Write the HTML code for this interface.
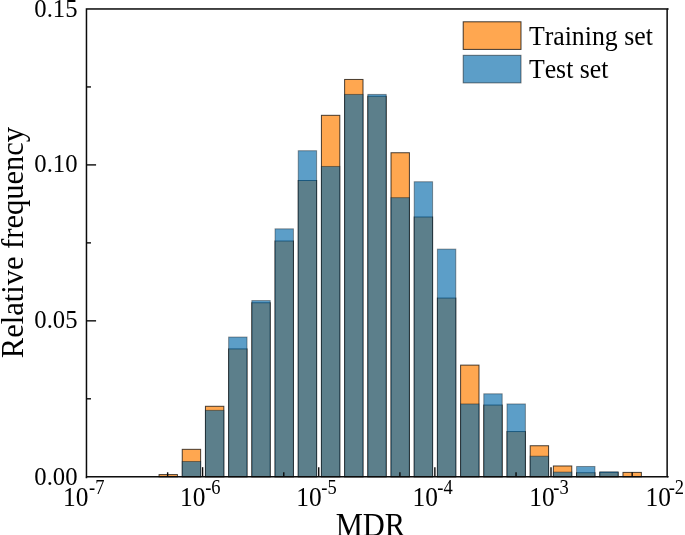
<!DOCTYPE html>
<html lang="en"><head><meta charset="utf-8"><title>MDR relative frequency histogram</title>
<style>html,body{margin:0;padding:0;background:#fff;}body{width:685px;height:535px;overflow:hidden;}svg{display:block;}text{font-kerning:none;font-family:"Liberation Serif","Times New Roman",Times,serif;fill:#000;}</style>
</head><body>
<svg width="685" height="535" viewBox="0 0 685 535">
<rect x="0" y="0" width="685" height="535" fill="#fff"/>
<g fill="rgb(255,130,5)" fill-opacity="0.7" stroke="rgba(0,0,0,0.72)" stroke-width="1.0">
<rect x="159.04" y="474.59" width="18.40" height="2.18"/>
<rect x="182.24" y="449.33" width="18.40" height="27.44"/>
<rect x="205.44" y="406.29" width="18.40" height="70.48"/>
<rect x="228.63" y="348.90" width="18.40" height="127.87"/>
<rect x="251.83" y="302.75" width="18.40" height="174.02"/>
<rect x="275.02" y="241.00" width="18.40" height="235.77"/>
<rect x="298.22" y="180.50" width="18.40" height="296.27"/>
<rect x="321.42" y="115.32" width="18.40" height="361.45"/>
<rect x="344.61" y="79.45" width="18.40" height="397.32"/>
<rect x="367.81" y="96.29" width="18.40" height="380.48"/>
<rect x="391.01" y="152.74" width="18.40" height="324.03"/>
<rect x="414.20" y="216.99" width="18.40" height="259.78"/>
<rect x="437.40" y="298.07" width="18.40" height="178.70"/>
<rect x="460.60" y="365.12" width="18.40" height="111.65"/>
<rect x="483.79" y="405.04" width="18.40" height="71.73"/>
<rect x="506.99" y="431.55" width="18.40" height="45.22"/>
<rect x="530.18" y="445.74" width="18.40" height="31.03"/>
<rect x="553.38" y="465.98" width="18.40" height="10.79"/>
<rect x="576.58" y="472.72" width="18.40" height="4.05"/>
<rect x="599.77" y="472.40" width="18.40" height="4.37"/>
<rect x="622.97" y="472.40" width="18.40" height="4.37"/>
</g>
<g fill="rgb(4,106,170)" fill-opacity="0.65" stroke="rgba(0,0,0,0.38)" stroke-width="1.0">
<rect x="182.24" y="461.49" width="18.40" height="15.28"/>
<rect x="205.44" y="410.34" width="18.40" height="66.43"/>
<rect x="228.63" y="337.05" width="18.40" height="139.72"/>
<rect x="251.83" y="300.57" width="18.40" height="176.20"/>
<rect x="275.02" y="228.84" width="18.40" height="247.93"/>
<rect x="298.22" y="150.71" width="18.40" height="326.06"/>
<rect x="321.42" y="166.46" width="18.40" height="310.31"/>
<rect x="344.61" y="94.42" width="18.40" height="382.35"/>
<rect x="367.81" y="94.42" width="18.40" height="382.35"/>
<rect x="391.01" y="197.65" width="18.40" height="279.12"/>
<rect x="414.20" y="181.74" width="18.40" height="295.03"/>
<rect x="437.40" y="249.11" width="18.40" height="227.66"/>
<rect x="460.60" y="403.95" width="18.40" height="72.82"/>
<rect x="483.79" y="393.81" width="18.40" height="82.96"/>
<rect x="506.99" y="403.95" width="18.40" height="72.82"/>
<rect x="530.18" y="456.19" width="18.40" height="20.58"/>
<rect x="553.38" y="472.09" width="18.40" height="4.68"/>
<rect x="576.58" y="466.48" width="18.40" height="10.29"/>
<rect x="599.77" y="471.78" width="18.40" height="4.99"/>
</g>
<g stroke="#0a0a0a" stroke-width="1.4" fill="none">
<line x1="202.60" y1="476.77" x2="202.60" y2="467.17"/>
<line x1="318.73" y1="476.77" x2="318.73" y2="467.17"/>
<line x1="434.87" y1="476.77" x2="434.87" y2="467.17"/>
<line x1="551.00" y1="476.77" x2="551.00" y2="467.17"/>
<line x1="167.64" y1="476.77" x2="167.64" y2="472.27"/>
<line x1="283.77" y1="476.77" x2="283.77" y2="472.27"/>
<line x1="399.91" y1="476.77" x2="399.91" y2="472.27"/>
<line x1="516.04" y1="476.77" x2="516.04" y2="472.27"/>
<line x1="632.17" y1="476.77" x2="632.17" y2="472.27"/>
<line x1="86.47" y1="398.80" x2="90.97" y2="398.80"/>
<line x1="86.47" y1="320.84" x2="96.07" y2="320.84"/>
<line x1="86.47" y1="242.87" x2="90.97" y2="242.87"/>
<line x1="86.47" y1="164.90" x2="96.07" y2="164.90"/>
<line x1="86.47" y1="86.94" x2="90.97" y2="86.94"/>
</g>
<rect x="86.47" y="8.97" width="580.66" height="467.80" fill="none" stroke="#0a0a0a" stroke-width="1.5"/>
<path d="M667.13 8.97h1.5M667.13 476.77h1.5M86.47 476.77v1.4" fill="none" stroke="#0a0a0a" stroke-width="1.5"/>
<text x="77.5" y="484.85" font-size="24.7" text-anchor="end">0.00</text>
<text x="77.5" y="328.49" font-size="24.7" text-anchor="end">0.05</text>
<text x="77.5" y="172.45" font-size="24.7" text-anchor="end">0.10</text>
<text x="77.5" y="16.85" font-size="24.7" text-anchor="end">0.15</text>
<text transform="translate(63.00,506.1) scale(1,1.1)" font-size="25.4">10</text>
<text transform="translate(89.00,494.1) scale(1,1.09)" font-size="18.5">-7</text>
<text transform="translate(179.95,506.1) scale(1,1.1)" font-size="25.4">10</text>
<text transform="translate(205.20,494.1) scale(1,1.09)" font-size="18.5">-6</text>
<text transform="translate(296.20,506.1) scale(1,1.1)" font-size="25.4">10</text>
<text transform="translate(321.30,494.1) scale(1,1.09)" font-size="18.5">-5</text>
<text transform="translate(412.45,506.1) scale(1,1.1)" font-size="25.4">10</text>
<text transform="translate(437.30,494.1) scale(1,1.09)" font-size="18.5">-4</text>
<text transform="translate(529.36,506.1) scale(1,1.1)" font-size="25.4">10</text>
<text transform="translate(553.30,494.1) scale(1,1.09)" font-size="18.5">-3</text>
<text transform="translate(645.60,506.1) scale(1,1.1)" font-size="25.4">10</text>
<text transform="translate(668.70,494.1) scale(1,1.09)" font-size="18.5">-2</text>
<text transform="translate(370.4,536.2) scale(1,1.07)" font-size="30.5" text-anchor="middle">MDR</text>
<text transform="translate(23.0,242.6) rotate(-90) scale(1,1.045)" font-size="30.5" text-anchor="middle">Relative frequency</text>
<rect x="463.2" y="21.8" width="57.8" height="27.6" fill="rgb(255,130,5)" fill-opacity="0.7" stroke="rgba(0,0,0,0.75)" stroke-width="1"/>
<rect x="463.2" y="55.3" width="57.8" height="27.6" fill="rgb(4,106,170)" fill-opacity="0.65" stroke="rgba(0,0,0,0.5)" stroke-width="1"/>
<text transform="translate(528.9,44.5) scale(1,1.06)" font-size="25.8">Training set</text>
<text transform="translate(528.9,77.6) scale(1,1.06)" font-size="25.8">Test set</text>
</svg>
</body></html>
